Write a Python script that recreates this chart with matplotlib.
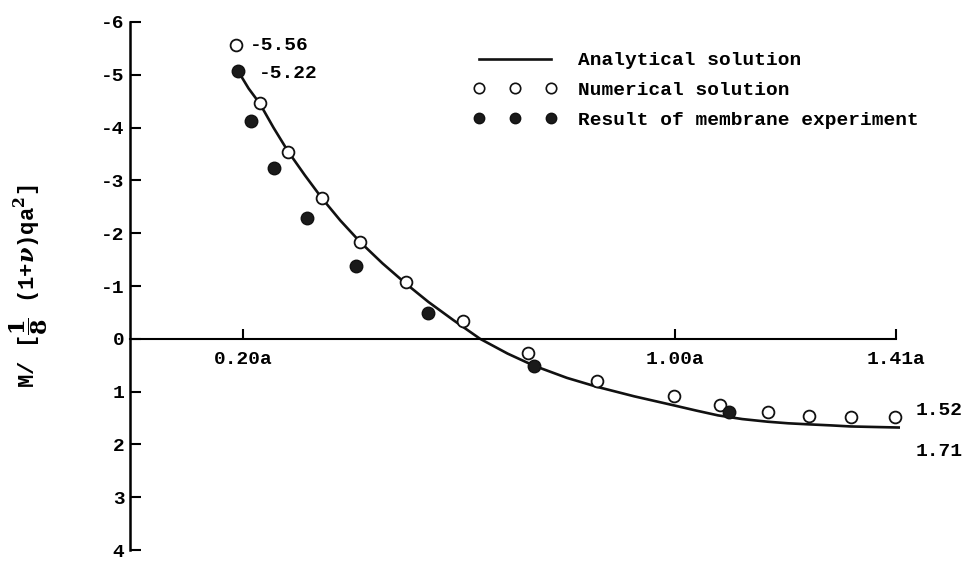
import matplotlib
matplotlib.use("Agg")
import matplotlib.pyplot as plt
from matplotlib.lines import Line2D

# x in units of a, y in units of (1/8)(1+nu)qa^2 (negative up)
num_x = [0.187, 0.231, 0.283, 0.346, 0.417, 0.502, 0.607, 0.728, 0.856,
         0.998, 1.083, 1.172, 1.248, 1.326, 1.409]
num_y = [-5.56, -4.47, -3.53, -2.66, -1.83, -1.08, -0.34, 0.26, 0.79,
         1.09, 1.26, 1.38, 1.47, 1.49, 1.49]

exp_x = [0.191, 0.215, 0.257, 0.318, 0.409, 0.543, 0.739, 1.100]
exp_y = [-5.08, -4.13, -3.23, -2.28, -1.38, -0.49, 0.51, 1.38]

ana_x = [0.191, 0.210, 0.231, 0.256, 0.283, 0.314, 0.346, 0.380, 0.417,
         0.458, 0.502, 0.543, 0.590, 0.639, 0.690, 0.739, 0.800, 0.856,
         0.925, 0.998, 1.040, 1.080, 1.125, 1.172, 1.210, 1.248, 1.290,
         1.326, 1.370, 1.415]
ana_y = [-5.06, -4.74, -4.45, -4.00, -3.55, -3.10, -2.66, -2.24, -1.83,
         -1.43, -1.04, -0.70, -0.35, 0.00, 0.28, 0.51, 0.74, 0.91,
         1.09, 1.26, 1.36, 1.45, 1.52, 1.57, 1.60, 1.62, 1.64,
         1.66, 1.67, 1.68]

x_ticks = [0.20, 1.00, 1.41]
x_labels = ["0.20a", "1.00a", "1.41a"]
y_ticks = [-6, -5, -4, -3, -2, -1, 0, 1, 2, 3, 4]

plt.rcParams['font.family'] = ['Liberation Mono', 'DejaVu Sans']
plt.rcParams['font.size'] = 14
plt.rcParams['font.weight'] = 'bold'
plt.rcParams['mathtext.fontset'] = 'dejavuserif'

fig = plt.figure(figsize=(9.7, 5.64), dpi=100)
ax = fig.add_axes([0.134, 0.0248, 0.7897, 0.9362])

ax.plot(ana_x, ana_y, color='#111111', lw=1.9, clip_on=False, zorder=2)
ax.plot(num_x, num_y, 'o', ms=8.5, mfc='white', mec='#111111', mew=1.3,
        clip_on=False, zorder=3)
ax.plot(exp_x, exp_y, 'o', ms=9, mfc='#1a1a1a', mec='#111111', mew=1,
        clip_on=False, zorder=4)

# value labels
ax.annotate("-5.56", (num_x[0], num_y[0]), xytext=(14, 0),
            textcoords='offset pixels', va='center', ha='left',
            annotation_clip=False)
ax.annotate("-5.22", (exp_x[0], exp_y[0]), xytext=(20, -3),
            textcoords='offset pixels', va='center', ha='left',
            annotation_clip=False)
ax.annotate("1.52", (num_x[-1], num_y[-1]), xytext=(20, 7),
            textcoords='offset pixels', va='center', ha='left',
            annotation_clip=False)
ax.annotate("1.71", (ana_x[-1], ana_y[-1]), xytext=(17, -24),
            textcoords='offset pixels', va='center', ha='left',
            annotation_clip=False)

ax.set_xlim(-0.01, 1.41)
ax.set_ylim(4, -6)

for s in ['top', 'right']:
    ax.spines[s].set_visible(False)
ax.spines['bottom'].set_position(('data', 0))
ax.spines['left'].set_linewidth(1.8)
ax.spines['bottom'].set_linewidth(1.5)

ax.set_xticks(x_ticks)
ax.set_xticklabels(x_labels)
ax.set_yticks(y_ticks)
ax.set_yticklabels([str(v) for v in y_ticks])
ax.tick_params(axis='y', direction='in', length=8, width=1.5, pad=4)
ax.tick_params(axis='x', direction='in', length=7, width=1.5, pad=9)

ax.set_ylabel(r"M/ [$\dfrac{\mathbf{1}}{\mathbf{8}}$ (1+$\nu$)qa$^\mathbf{2}$]",
              fontsize=16, fontweight='bold')
ax.yaxis.set_label_coords(-0.104, 0.50)

handles = [
    Line2D([], [], color='#111111', lw=1.9),
    Line2D([], [], ls='none', marker='o', ms=7.5, mfc='white',
           mec='#111111', mew=1.2),
    Line2D([], [], ls='none', marker='o', ms=7.5, mfc='#1a1a1a',
           mec='#111111', mew=1),
]
labels = ["Analytical solution", "Numerical solution",
          "Result of membrane experiment"]
fig.legend(handles, labels, loc='upper left',
           bbox_to_anchor=(0.488, 0.908), bbox_transform=fig.transFigure,
           numpoints=3, frameon=False, borderpad=0, borderaxespad=0,
           handlelength=4.3, handletextpad=1.1, labelspacing=0.62)

fig.savefig("out.png", dpi=100)
